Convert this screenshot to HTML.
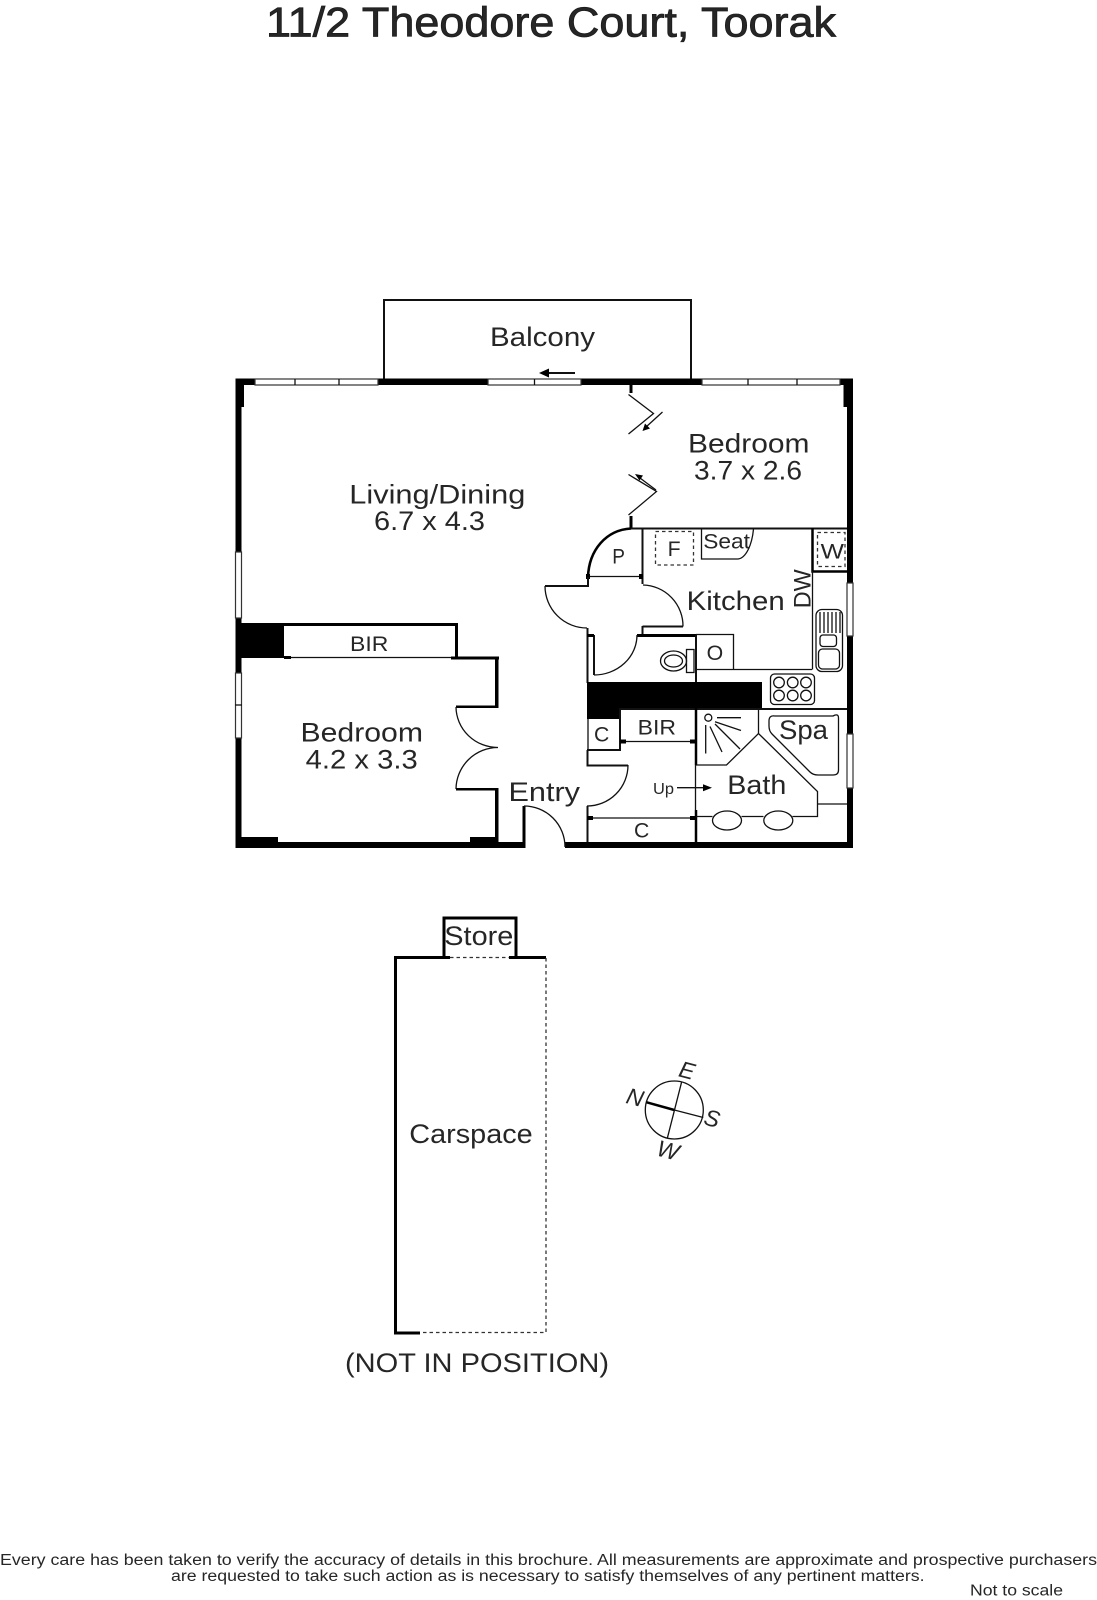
<!DOCTYPE html>
<html><head><meta charset="utf-8"><style>
html,body{margin:0;padding:0;background:#fff}
svg{display:block}
text{font-family:"Liberation Sans",sans-serif;fill:#262626}
.w{fill:#000;stroke:none}
.t{fill:none;stroke:#111;stroke-width:1.3}
.m{fill:none;stroke:#111;stroke-width:2}
.k{fill:none;stroke:#000;stroke-width:3}
.d{fill:none;stroke:#333;stroke-width:1.3;stroke-dasharray:3.5 3}
.win{fill:#fff;stroke:#333;stroke-width:1.2}
</style></head><body>
<svg width="1097" height="1600" viewBox="0 0 1097 1600" xmlns="http://www.w3.org/2000/svg">
<rect width="1097" height="1600" fill="#fff"/>
<text x="266" y="36.500" font-size="42" textLength="570" lengthAdjust="spacingAndGlyphs" stroke="#1c1c1c" stroke-width=".8">11/2 Theodore Court, Toorak</text>

<!-- balcony -->
<path class="m" d="M384 379V300H691V379"/>
<path d="M575 373H548" class="m" stroke-width="1.5"/><path d="M539 373l10-4.500v9z" fill="#000"/>

<!-- outer walls -->
<rect class="w" x="235.500" y="378.500" width="19.500" height="6.500"/>
<rect class="w" x="378" y="378.500" width="110" height="6.500"/>
<rect class="w" x="581" y="378.500" width="121" height="6.500"/>
<rect class="w" x="840" y="378.500" width="13" height="6.500"/>
<rect class="w" x="235.500" y="378.500" width="8.500" height="28.500"/>
<rect class="w" x="235.500" y="385" width="6" height="167"/>
<rect class="w" x="843.500" y="378.500" width="9.500" height="28.500"/>
<rect class="w" x="847" y="378.500" width="6" height="204.500"/>
<rect class="w" x="847" y="636" width="6" height="98"/>
<rect class="w" x="847" y="788" width="6" height="60"/>
<rect class="w" x="235.500" y="618" width="6" height="55"/>
<rect class="w" x="235.500" y="738" width="6" height="110"/>
<rect class="w" x="235.500" y="842" width="288.500" height="6"/>
<rect class="w" x="565" y="842" width="288" height="6"/>
<rect class="w" x="241" y="837" width="37" height="6"/>
<rect class="w" x="470" y="837" width="28" height="6"/>

<!-- windows -->
<rect class="win" x="255" y="379" width="123" height="6"/><path class="t" d="M295 379v6M339 379v6"/>
<rect class="win" x="488" y="379" width="93" height="6"/><path class="t" d="M534.500 379v6"/>
<rect class="win" x="702" y="379" width="138" height="6"/><path class="t" d="M748 379v6M797 379v6"/>
<rect class="win" x="235.500" y="552" width="6" height="66"/>
<rect class="win" x="235.500" y="673" width="6" height="65"/><path class="t" d="M235 705h7"/>
<rect class="win" x="847" y="583" width="6" height="53"/>
<rect class="win" x="847" y="734" width="6" height="54"/>

<!-- left BIR / bedroom -->
<rect class="w" x="236" y="623" width="48" height="35"/>
<rect class="w" x="284" y="623" width="174" height="3"/>
<rect class="w" x="455" y="623" width="3" height="35"/>
<path class="t" d="M284 657.500H455"/>
<rect class="w" x="284" y="656" width="7" height="3"/>
<rect class="w" x="451" y="656.500" width="48" height="3"/>
<rect class="w" x="495" y="656.500" width="3.500" height="51"/>
<rect class="w" x="456" y="705.500" width="42.500" height="2.500"/>
<path class="t" d="M456 707A42 41 0 0 0 498 747.500A42 42 0 0 0 456 789"/>
<rect class="w" x="456" y="788" width="42.500" height="2.500"/>
<rect class="w" x="495" y="788" width="3.500" height="56"/>
<!-- entry door -->
<rect class="w" x="522.500" y="806" width="3" height="42"/>
<path class="t" d="M524 806A41 41 0 0 1 565 847"/>

<!-- bifold doors -->
<rect class="w" x="629.500" y="384" width="3" height="9"/>
<path class="t" d="M628.500 394.500L653.500 413.500L628.500 434"/>
<path class="t" d="M662.500 412L646 427"/><path d="M642.500 431l2.500-7.500 5 5z" fill="#000"/>
<path class="t" d="M628.500 474.500L656.500 491.500L628.500 515"/>
<path class="t" d="M656 490L640 478"/><path d="M635 474l8 1.500-3.500 5z" fill="#000"/>
<rect class="w" x="629.500" y="516" width="3" height="12"/>

<!-- kitchen top wall -->
<path class="m" d="M631 528.500H847"/>
<path d="M631 528.500C606 530 589 550 588 577" fill="none" stroke="#000" stroke-width="2.600"/>
<path class="m" d="M642.500 528V584"/>
<path class="t" d="M588 576.500H642"/>
<rect class="w" x="586" y="574" width="4" height="5"/><rect class="w" x="639" y="574" width="4" height="5"/>
<path class="m" d="M545 586H588V577"/>
<path class="t" d="M545 586A42 42 0 0 0 587 628"/>
<path class="t" d="M643 585A41 41 0 0 1 683 626.500"/>
<path class="m" d="M642.500 626.500H683M642.500 626V636"/>
<!-- wc block -->
<path class="m" d="M587.500 628V683M594 635V675"/>
<path class="k" d="M587 635.500H594M637 635.500H697"/>
<path class="t" d="M594 675A43 40 0 0 0 637 635"/>
<path class="m" d="M696 635V683"/>
<rect class="w" x="587" y="682" width="175" height="26.500"/>
<rect class="w" x="587" y="708" width="33" height="11"/>
<path class="m" d="M620 709H847"/>
<!-- toilet -->
<rect class="t" x="686.500" y="649.500" width="7.500" height="23"/>
<ellipse class="t" cx="673.500" cy="661" rx="13" ry="10"/>
<ellipse class="t" cx="673.500" cy="661" rx="9" ry="6"/>
<!-- O box -->
<path class="t" d="M696 634.500H733.500V669.500"/>
<path class="t" d="M696 669.500H812"/>
<!-- W -->
<path d="M812.500 528V571.500H847" fill="none" stroke="#000" stroke-width="2.500"/>
<path class="t" d="M812.500 571V669.500"/>
<rect class="d" x="817.500" y="532.500" width="27.500" height="34"/>
<!-- fridge -->
<rect class="d" x="655.500" y="531.500" width="38" height="33.500"/>
<!-- seat -->
<path class="t" d="M701.500 529V559H738C746 558 752 545 753.500 529"/>
<!-- sink -->
<rect class="t" x="816" y="609.500" width="26.500" height="62" rx="6"/>
<path class="t" d="M820 612v21M824 612v21M828 612v21M832 612v21M836 612v21M840 612v21"/>
<rect class="t" x="820" y="635" width="16.500" height="11.500" rx="3"/>
<rect class="t" x="818.500" y="649" width="21" height="20" rx="4"/>
<!-- cooktop -->
<rect class="t" x="770.500" y="674" width="44" height="30.500" rx="4"/>
<circle class="t" cx="779" cy="682.500" r="5.300"/><circle class="t" cx="792.700" cy="682.500" r="5.300"/><circle class="t" cx="806" cy="682.500" r="5.300"/>
<circle class="t" cx="779" cy="695.500" r="5.300"/><circle class="t" cx="792.700" cy="695.500" r="5.300"/><circle class="t" cx="806" cy="695.500" r="5.300"/>

<!-- BIR & closets -->
<path class="m" d="M620 708V751M587 750H620"/>
<path class="t" d="M588 719V750"/>
<path class="t" d="M620 741.500H696"/>
<rect class="w" x="620" y="739.500" width="6" height="4"/><rect class="w" x="690" y="739.500" width="6" height="4"/>
<path d="M696 708V765" fill="none" stroke="#000" stroke-width="2.500"/>
<path class="t" d="M695.500 765V810"/>
<path d="M696 810V842" fill="none" stroke="#000" stroke-width="2.500"/>
<path class="m" d="M587.500 750V765.500H628M587.500 806V842"/>
<path class="t" d="M628 765A41 41 0 0 1 587 806"/>
<path class="t" d="M587 818H696"/>
<rect class="w" x="587" y="816" width="6" height="4"/><rect class="w" x="690" y="816" width="6" height="4"/>

<!-- bath -->
<path class="t" d="M696 765H726.500L758.500 733.500L817.500 791.500V816.500H792.500M763.500 816.500H741.500M712.500 816.500H696"/>
<path class="t" d="M758.500 709V733.500M817.500 804H847"/>
<ellipse class="t" cx="727" cy="820.500" rx="14.500" ry="9.500"/>
<ellipse class="t" cx="778.300" cy="820.500" rx="14.500" ry="9.500"/>
<circle class="t" cx="708.300" cy="717.700" r="3.500"/>
<path class="t" d="M717 717.700H741M715 721.700L741 730.500M710 726.500L722 752M705.700 725V753.500M715 724L740 749"/>
<path class="t" d="M775 716H833Q838.500 713 838.500 718V770Q838.500 775 833 775H818Q813 775 810 772L772 734Q769 731 769 726V721Q769 715 775 716Z"/>
<path class="t" d="M677 787.700H703"/><path d="M712 787.700l-9-3.500v7z" fill="#000"/>

<!-- Carspace -->
<path class="k" d="M444 957V918H516V957"/>
<path class="k" d="M450 957.500H395.500V1333H420"/>
<path class="k" d="M509 957.500H546"/>
<path class="d" d="M450 957.500H509M546 958V1332.500H420"/>

<!-- compass -->
<circle class="t" cx="674.300" cy="1110" r="29"/>
<path d="M646.700 1102.300L674.300 1110" fill="none" stroke="#000" stroke-width="2.500"/>
<path class="t" d="M674.300 1110L703.300 1117.500M681.700 1081.700L667.300 1138.300"/>

<!-- labels -->
<g font-size="27">
<text x="490" y="346" textLength="105" lengthAdjust="spacingAndGlyphs">Balcony</text>
<text x="349.300" y="503.500" textLength="176" lengthAdjust="spacingAndGlyphs">Living/Dining</text>
<text x="374" y="530" textLength="111" lengthAdjust="spacingAndGlyphs">6.7 x 4.3</text>
<text x="688" y="452.300" textLength="121.500" lengthAdjust="spacingAndGlyphs">Bedroom</text>
<text x="694" y="479.300" textLength="108" lengthAdjust="spacingAndGlyphs">3.7 x 2.6</text>
<text x="686.700" y="610" textLength="98" lengthAdjust="spacingAndGlyphs">Kitchen</text>
<text x="779" y="739" textLength="49" lengthAdjust="spacingAndGlyphs">Spa</text>
<text x="727.300" y="794" textLength="59" lengthAdjust="spacingAndGlyphs">Bath</text>
<text x="508.500" y="801" textLength="71.500" lengthAdjust="spacingAndGlyphs">Entry</text>
<text x="300.500" y="741.700" textLength="122.500" lengthAdjust="spacingAndGlyphs">Bedroom</text>
<text x="305.700" y="768.300" textLength="112" lengthAdjust="spacingAndGlyphs">4.2 x 3.3</text>
<text x="444.300" y="945" textLength="69" lengthAdjust="spacingAndGlyphs">Store</text>
<text x="409.300" y="1143" textLength="123.400" lengthAdjust="spacingAndGlyphs">Carspace</text>
<text x="345" y="1372" textLength="264" lengthAdjust="spacingAndGlyphs">(NOT IN POSITION)</text>
</g>
<g font-size="21">
<text x="612.300" y="563.300" textLength="12.700" lengthAdjust="spacingAndGlyphs">P</text>
<text x="667.700" y="556" textLength="13" lengthAdjust="spacingAndGlyphs">F</text>
<text x="703.300" y="548.300" textLength="46.700" lengthAdjust="spacingAndGlyphs">Seat</text>
<text x="820.700" y="558.300" textLength="23.300" lengthAdjust="spacingAndGlyphs">W</text>
<text x="706.700" y="660" textLength="16.600" lengthAdjust="spacingAndGlyphs">O</text>
<text x="637.700" y="734.300" textLength="38.300" lengthAdjust="spacingAndGlyphs">BIR</text>
<text x="594" y="741.700" textLength="15.300" lengthAdjust="spacingAndGlyphs">C</text>
<text x="634" y="837.300" textLength="15.300" lengthAdjust="spacingAndGlyphs">C</text>
<text x="350" y="651" textLength="38.300" lengthAdjust="spacingAndGlyphs">BIR</text>
</g>
<text transform="translate(810.700 608.300) rotate(-90)" font-size="24" textLength="39" lengthAdjust="spacingAndGlyphs">DW</text>
<text x="653" y="794" font-size="15.500" textLength="21" lengthAdjust="spacingAndGlyphs">Up</text>

<g font-size="23" font-style="italic">
<text transform="translate(633 1105) rotate(14.500)" text-anchor="middle">N</text>
<text transform="translate(685 1078) rotate(14.500)" text-anchor="middle">E</text>
<text transform="translate(710 1126) rotate(14.500)" text-anchor="middle">S</text>
<text transform="translate(666 1158) rotate(14.500)" text-anchor="middle">W</text>
</g>

<g font-size="15.500">
<text x="0" y="1565" textLength="1097" lengthAdjust="spacingAndGlyphs">Every care has been taken to verify the accuracy of details in this brochure.  All measurements are approximate and prospective purchasers</text>
<text x="171" y="1581" textLength="753.500" lengthAdjust="spacingAndGlyphs">are requested to take such action as is necessary to satisfy themselves of any pertinent matters.</text>
<text x="970" y="1595.700" textLength="93" lengthAdjust="spacingAndGlyphs">Not to scale</text>
</g>
</svg>
</body></html>
